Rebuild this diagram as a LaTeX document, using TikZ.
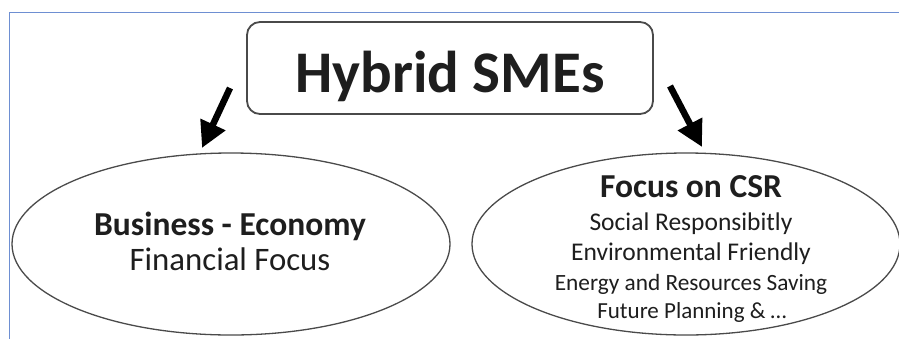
\documentclass[tikz,border=0pt]{standalone}
\usepackage{fontspec}
\setmainfont{Carlito}
\usetikzlibrary{shapes.geometric,arrows.meta}
\definecolor{framebl}{HTML}{6E8FD2}
\definecolor{outl}{HTML}{4A4A4A}
\definecolor{txt}{HTML}{1E1E1E}
\tikzset{
  oval/.style={ellipse, draw=outl, line width=1.3pt, inner sep=0pt},
  titlebox/.style={draw=outl, line width=1.8pt, rounded corners=13pt},
  bigarrow/.style={line width=6.5pt, -{Triangle[length=26pt,width=26pt]}},
  txtline/.style={anchor=base, inner sep=0pt, text=txt},
}
\begin{document}
\begin{tikzpicture}[x=1pt,y=-1pt]
\useasboundingbox (0,0) rectangle (899,338);
\fill[white] (0,0) rectangle (899,338);
% frame
\draw[framebl, line width=1.6pt] (9.5,340) -- (9.5,12.5) -- (901,12.5);
% title box
\draw[titlebox] (247,22) rectangle (653,114);
\node[txtline, font=\bfseries\fontsize{59}{59}\selectfont] (title) at (450,92) {Hybrid SMEs};
% ellipses
\node[oval, minimum width=438pt, minimum height=182pt] (left) at (231,244) {};
\node[oval, minimum width=428pt, minimum height=182pt] (right) at (686,244) {};
% arrows
\coordinate (la) at (230,88);
\coordinate (lb) at (202,148);
\coordinate (ra) at (670,86);
\coordinate (rb) at (702,147);
\draw[bigarrow] (la) -- (lb);
\draw[bigarrow] (ra) -- (rb);
% left text
\node[txtline, font=\bfseries\fontsize{33.5}{34}\selectfont] (be) at (230,235) {Business - Economy};
\node[txtline, font=\fontsize{32.8}{33}\selectfont] (ff) at (230,270) {Financial Focus};
% right text
\node[txtline, font=\bfseries\fontsize{33.5}{34}\selectfont] (csr) at (691,197) {Focus on CSR};
\node[txtline, font=\fontsize{25.5}{26}\selectfont] (l1) at (691,230) {Social Responsibitly};
\node[txtline, font=\fontsize{25.5}{26}\selectfont] (l2) at (691,260) {Environmental Friendly};
\node[txtline, font=\fontsize{23.3}{24}\selectfont] (l3) at (691,290) {Energy and Resources Saving};
\node[txtline, font=\fontsize{23}{24}\selectfont] (l4) at (692,318) {Future Planning \& …};
\end{tikzpicture}
\end{document}
